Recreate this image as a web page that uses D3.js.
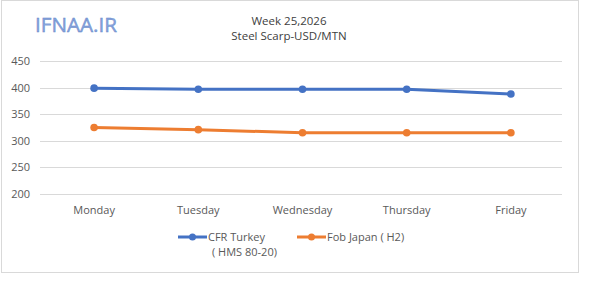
<!DOCTYPE html>
<html lang="en">
<head>
    <meta charset="UTF-8">
    <title>Steel Scrap Weekly</title>
    <script src="https://d3js.org/d3.v7.min.js"></script>
    <style>
        body { margin: 0; background: #fff; }
        text { font-family: "Open Sans", "Noto Sans", sans-serif; fill: #595959; }
        .grid line { stroke: #d9d9d9; stroke-width: 1px; }
    </style>
</head>
<body>
    <script>
        // Chart data
        const days = ["Monday", "Tuesday", "Wednesday", "Thursday", "Friday"];
        const cfrTurkey = [399, 397, 397, 397, 388];
        const fobJapan = [325, 321, 315, 315, 315];
        const yTicks = [200, 250, 300, 350, 400, 450];

        const series = [
            { name: ["CFR Turkey", "( HMS 80-20)"], values: cfrTurkey, color: "#4472c4" },
            { name: ["Fob Japan  ( H2)"], values: fobJapan, color: "#ed7d31" }
        ];

        const width = 600, height = 294;

        const svg = d3.select("body").append("svg")
            .attr("width", width)
            .attr("height", height);

        // chart frame
        svg.append("rect")
            .attr("x", 1.5).attr("y", 0.5)
            .attr("width", 577).attr("height", 272)
            .attr("fill", "#fff")
            .attr("stroke", "#d9d9d9");

        const x = d3.scalePoint().domain(days).range([42, 563]).padding(0.5);
        const y = d3.scaleLinear().domain([200, 450]).range([194, 61]);

        // gridlines
        svg.append("g").attr("class", "grid")
            .selectAll("line").data(yTicks).enter().append("line")
            .attr("x1", 40).attr("x2", 562)
            .attr("y1", d => Math.round(y(d)) + 0.5)
            .attr("y2", d => Math.round(y(d)) + 0.5);

        // y labels
        svg.append("g").selectAll("text").data(yTicks).enter().append("text")
            .attr("x", 30).attr("y", d => y(d) + 4)
            .attr("text-anchor", "end")
            .style("font-size", "11px")
            .text(d => d);

        // x labels
        svg.append("g").selectAll("text").data(days).enter().append("text")
            .attr("x", d => x(d)).attr("y", 214)
            .attr("text-anchor", "middle")
            .style("font-size", "11px")
            .text(d => d);

        const line = d3.line()
            .x((d, i) => x(days[i]))
            .y(d => y(d));

        series.forEach(s => {
            svg.append("path")
                .datum(s.values)
                .attr("fill", "none")
                .attr("stroke", s.color)
                .attr("stroke-width", 3)
                .attr("stroke-linejoin", "round")
                .attr("d", line);

            svg.append("g").selectAll("circle").data(s.values).enter().append("circle")
                .attr("cx", (d, i) => x(days[i]))
                .attr("cy", d => y(d))
                .attr("r", 3.8)
                .attr("fill", s.color);
        });

        // titles
        svg.append("text")
            .attr("x", 289).attr("y", 25)
            .attr("text-anchor", "middle")
            .style("font-size", "11.5px")
            .style("fill", "#404040")
            .text("Week 25,2026");
        svg.append("text")
            .attr("x", 289).attr("y", 40)
            .attr("text-anchor", "middle")
            .style("font-size", "11.5px")
            .style("fill", "#404040")
            .text("Steel Scarp-USD/MTN");

        // watermark
        svg.append("text")
            .attr("x", 35).attr("y", 32)
            .attr("textLength", 82)
            .attr("lengthAdjust", "spacingAndGlyphs")
            .style("font-size", "20px")
            .style("fill", "#86a3dc")
            .style("stroke", "#6385c8")
            .style("stroke-width", 0.4)
            .text("IFNAA.IR");

        // legend
        const legendX = [178, 297];
        series.forEach((s, i) => {
            const lg = svg.append("g").attr("transform", `translate(${legendX[i]},237)`);
            lg.append("line")
                .attr("x1", 0).attr("x2", 29)
                .attr("stroke", s.color).attr("stroke-width", 3);
            lg.append("circle").attr("cx", 14.5).attr("r", 3.5).attr("fill", s.color);
            s.name.forEach((t, j) => {
                lg.append("text")
                    .attr("x", j === 0 ? 30 : 34)
                    .attr("y", 4 + j * 15)
                    .style("font-size", "11px")
                    .text(t);
            });
        });
    </script>
</body>
</html>
